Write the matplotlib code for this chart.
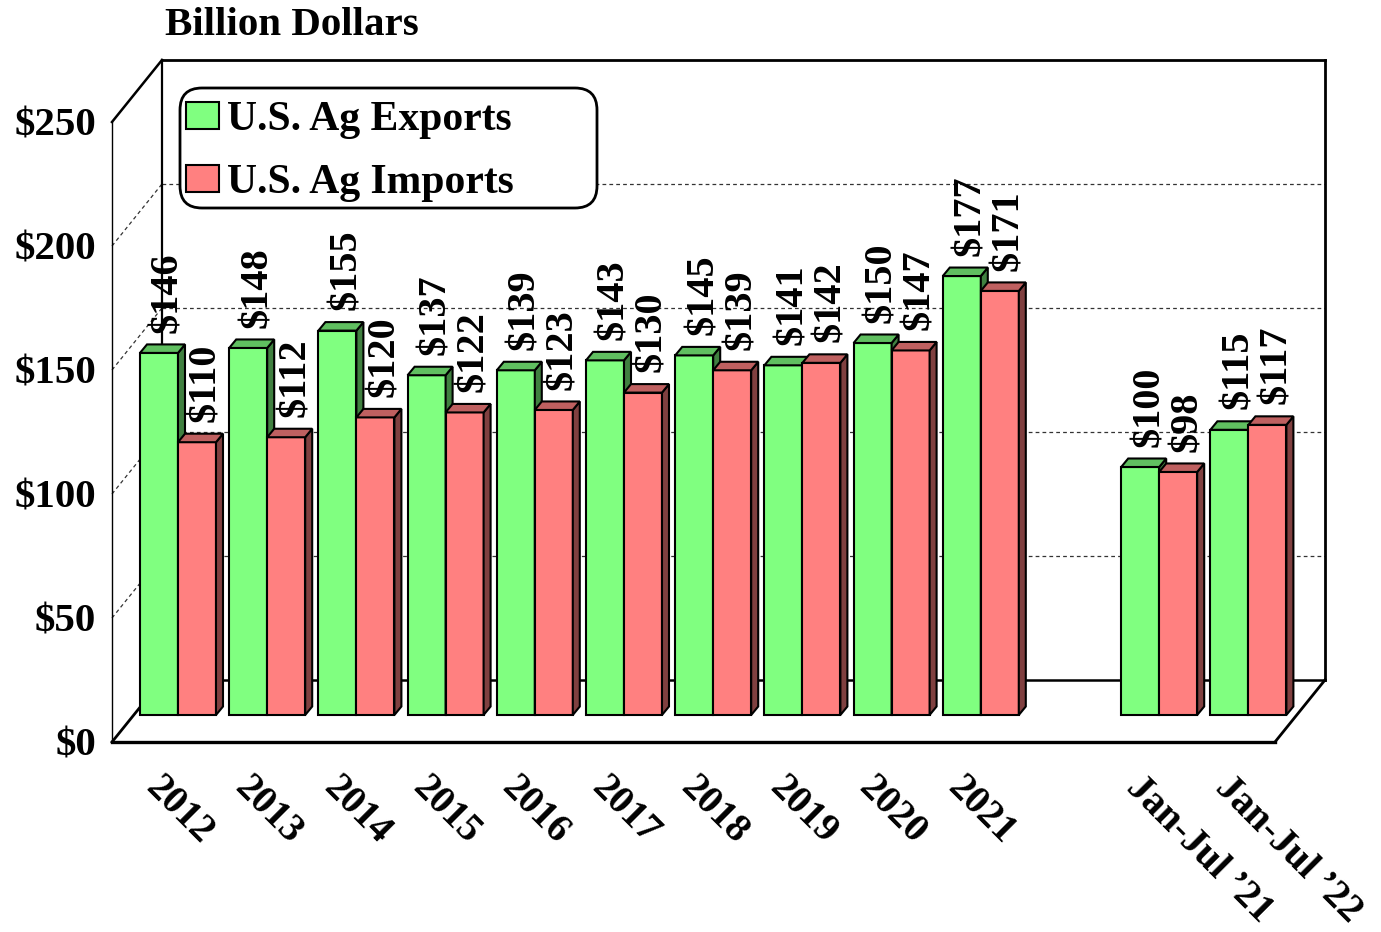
import matplotlib
matplotlib.use('Agg')
import matplotlib.pyplot as plt
from matplotlib.patches import Polygon, FancyBboxPatch, Patch

# ---------------- data ----------------
categories = ['2012', '2013', '2014', '2015', '2016', '2017', '2018', '2019',
              '2020', '2021', "Jan-Jul \u201921", "Jan-Jul \u201922"]
positions = [0, 1, 2, 3, 4, 5, 6, 7, 8, 9, 11, 12]
exports = [146, 148, 155, 137, 139, 143, 145, 141, 150, 177, 100, 115]
imports = [110, 112, 120, 122, 123, 130, 139, 142, 147, 171, 98, 117]
series_names = ['U.S. Ag Exports', 'U.S. Ag Imports']
y_ticks = [0, 50, 100, 150, 200, 250]
y_tick_labels = ['$0', '$50', '$100', '$150', '$200', '$250']
grid_levels = [50, 100, 150, 200]
y_title = 'Billion Dollars'

# ---------------- style ----------------
plt.rcParams['font.family'] = ['Liberation Serif', 'DejaVu Serif']
plt.rcParams['font.weight'] = 'bold'
plt.rcParams['text.parse_math'] = False

face = ['#80FF80', '#FF8080']
top = ['#60BF60', '#BF6060']
side = ['#408040', '#804040']

W, H = 1381, 932
UX = 89.2      # pixels per category step
UY = 2.48      # pixels per dollar
X0, Y0 = 178, 715  # pixel of (0, 0) in the bar plane

fig = plt.figure(figsize=(W / 100, H / 100), dpi=100)
ax = fig.add_axes([0, 0, 1, 1])
ax.set_xlim(-X0 / UX, (W - X0) / UX)
ax.set_ylim((Y0 - H) / UY, Y0 / UY)
ax.set_autoscale_on(False)
ax.axis('off')

# depth geometry (data units)
Dx, Dy = 50 / UX, 62 / UY
fF, fB = -27 / 62, 35 / 62
L = positions[0] - 0.496
R = positions[-1] + 0.542
bw = 38 / UX
bx, by = 7 / UX, 8.5 / UY


def P(x, v, f):
    return (x + f * Dx, v + f * Dy)


def line(p, q, **kw):
    ax.plot([p[0], q[0]], [p[1], q[1]], **kw)


solid = dict(color='black', solid_capstyle='projecting', zorder=2)
dash = dict(color='#333333', lw=0.9, ls=(0, (3, 2.5)), zorder=1.5)

# grid on back wall and left wall
for v in grid_levels:
    line(P(L, v, fB), P(R, v, fB), **dash)
    line(P(L, v, fF), P(L, v, fB), **dash)

# frame
line(P(L, 0, fF), P(R, 0, fF), lw=2.4, **solid)
line(P(R, 0, fF), P(R, 0, fB), lw=2.0, **solid)
line(P(R, 0, fB), P(R, 250, fB), lw=2.0, **solid)
line(P(L, 250, fB), P(R, 250, fB), lw=2.0, **solid)
line(P(L, 250, fF), P(L, 250, fB), lw=1.8, **solid)
line(P(L, 0, fF), P(L, 250, fF), lw=1.0, **solid)
line(P(L, 0, fF), P(L, 0, fB), lw=2.0, **solid)
line(P(L, 0, fB), P(L, 250, fB), lw=1.6, **solid)
line(P(L, 0, fB), P(R, 0, fB), lw=1.8, **solid)

# bars
z = 5
for i, (x, e, m) in enumerate(zip(positions, exports, imports)):
    for s, (x0, v) in enumerate([(x - bw, e), (x, m)]):
        b = ax.bar([x0], [v], width=bw, align='edge', color=face[s],
                   edgecolor='black', linewidth=1.5)
        b.patches[0].set_zorder(z)
        ax.add_patch(Polygon([(x0 + bw, 0), (x0 + bw, v), (x0 + bw + bx, v + by),
                              (x0 + bw + bx, by)], closed=True, fc=side[s],
                             ec='black', lw=1.5, zorder=z))
        ax.add_patch(Polygon([(x0, v), (x0 + bw, v), (x0 + bw + bx, v + by),
                              (x0 + bx, v + by)], closed=True, fc=top[s],
                             ec='black', lw=1.5, zorder=z))
        ax.text(x0 + bw / 2 + 0.1, v + by + 4.8, '$' + str(v), rotation=90,
                ha='center', va='bottom', fontsize=29, zorder=50)
        z += 1

# y tick labels
for v, lab in zip(y_ticks, y_tick_labels):
    px, py = P(L, v, fF)
    ax.text(px - 16 / UX, py - 5.4, lab, ha='right', va='baseline',
            fontsize=29.5, zorder=50)

# category labels
for x, lab in zip(positions, categories):
    ax.text(x - 34 / UX, -29.8, lab, rotation=-45, rotation_mode='anchor',
            ha='left', va='baseline', fontsize=28.5, zorder=50)

# title
ax.text((165 - X0) / UX, (Y0 - 35) / UY, y_title, ha='left', va='baseline',
        fontsize=29.5, zorder=50)

# legend
box = FancyBboxPatch((1.80, (H - 208) / 100), 4.17, 1.20,
                     boxstyle='round,pad=0,rounding_size=0.22',
                     transform=fig.dpi_scale_trans, fc='white', ec='black',
                     lw=2.0, zorder=40)
ax.add_patch(box)
box.set_clip_on(False)
handles = [Patch(fc=face[k], ec='black', lw=1.5) for k in range(2)]
leg = ax.legend(handles, series_names, loc='upper left',
                bbox_to_anchor=(186 / W, 1 - 101 / H), bbox_transform=fig.transFigure,
                frameon=False, fontsize=30, handlelength=0.78, handleheight=0.62,
                handletextpad=0.2, borderpad=0, borderaxespad=0, labelspacing=0.6)
leg.set_zorder(60)

fig.savefig('out.png', dpi=100)
